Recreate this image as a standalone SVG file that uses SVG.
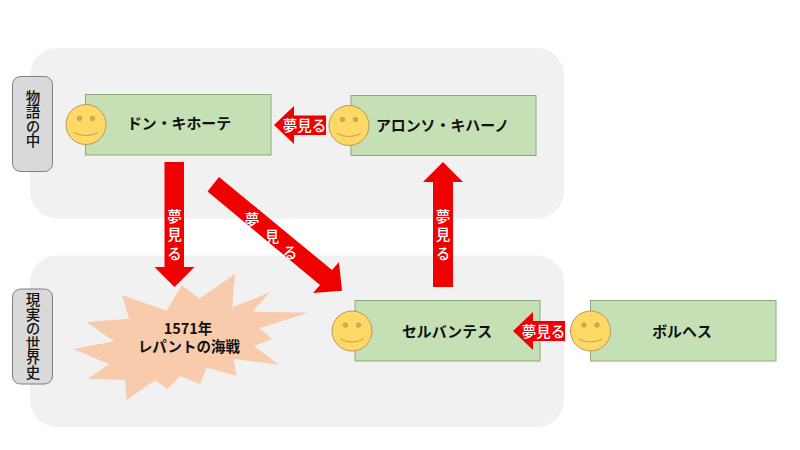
<svg xmlns="http://www.w3.org/2000/svg" width="800" height="450" viewBox="0 0 800 450">
<defs>
<style>
text{font-family:"Noto Sans CJK JP","Noto Sans CJK SC",sans-serif;font-size:14.5px;font-weight:700;text-anchor:middle;dominant-baseline:central;fill:#111}
.name{font-size:14.9px}
.panel{fill:#f1f1f1}
.tag{fill:#d9d9d9;stroke:#7f7f7f;stroke-width:1}
.box{fill:#c5e0b4;stroke:#8aa97c;stroke-width:1}
.arrow{fill:#f00000}
.lbl{fill:#fff;font-weight:500}
.vert{writing-mode:vertical-rl;text-orientation:upright;dominant-baseline:auto;font-weight:500}
.spaced{letter-spacing:4px}
.face{fill:#ffd966;stroke:#b8975a;stroke-width:1}
.eye{fill:#d6ad4e;stroke:#b8975a;stroke-width:.8}
.smile{fill:none;stroke:#b8975a;stroke-width:.9}
</style>
<g id="smiley">
<circle class="face" r="20"/>
<circle class="eye" cx="-6.500" cy="-6" r="2.200"/>
<circle class="eye" cx="6.500" cy="-6" r="2.200"/>
<path class="smile" d="M-12 8Q0 14 12 8"/>
</g>
</defs>
<g id="panels">
<rect id="panel-story" class="panel" x="30" y="48" width="534" height="170.500" rx="27"/>
<rect id="panel-world" class="panel" x="30" y="255.500" width="534" height="171.500" rx="27"/>
</g>
<g id="tag-story">
<rect class="tag" x="12.500" y="76.500" width="40" height="95" rx="8"/>
<text class="vert" x="33" y="119">物語の中</text>
</g>
<g id="tag-world">
<rect class="tag" x="12.500" y="289" width="40" height="95" rx="8"/>
<text class="vert" x="33" y="336">現実の世界史</text>
</g>
<g id="burst">
<polygon fill="#f8cbad" points="181.700,285 199.300,298.700 235,274 232.300,307.300 270,292.300 252.300,311.700 308.300,312.700 259.300,328.300 272.300,339 254,346 278.700,364.700 233.300,359 236.700,375.700 206.700,367.700 200,384 180,376 167.700,389 155,380.300 126.700,400 125,380 87.700,378.700 109,364.300 73.300,349 114.300,341.300 86,322 129.300,318.700 121.700,295 166.700,310.700"/>
<text y="326.500"><tspan x="188">1571年</tspan><tspan x="189" dy="18.500">レパントの海戦</tspan></text>
</g>
<g id="node-don">
<rect class="box" x="85.500" y="94.500" width="185.500" height="60.500"/>
<use href="#smiley" x="86" y="124.500"/>
<text class="name" x="179" y="122.500">ドン・キホーテ</text>
</g>
<g id="node-alonso">
<rect class="box" x="351" y="95.500" width="185" height="60"/>
<use href="#smiley" x="349" y="125.500"/>
<text class="name" x="442.500" y="124">アロンソ・キハーノ</text>
</g>
<g id="node-cervantes">
<rect class="box" x="355" y="300.500" width="185" height="60.500"/>
<use href="#smiley" x="352" y="331"/>
<text class="name" x="447" y="330">セルバンテス</text>
</g>
<g id="node-borges">
<rect class="box" x="590.500" y="300.500" width="185.500" height="60.500"/>
<use href="#smiley" x="590.500" y="331"/>
<text class="name" x="682" y="330">ボルヘス</text>
</g>
<g id="connectors">
<polygon class="arrow" points="274,125 294,106 294,115.500 326,115.500 326,135 294,135 294,144"/>
<text class="lbl" x="304.500" y="124.500">夢見る</text>
<polygon class="arrow" points="164.500,162 184,162 184,267 194.500,267 174.500,287 154.500,267 164.500,267"/>
<text class="lbl vert spaced" x="174.500" y="236.500">夢見る</text>
<polygon class="arrow" points="219,177 332,270 339,262 342,290.700 313,293 320,285 207.500,191.500"/>
<text class="lbl" x="252" y="218">夢</text>
<text class="lbl" x="272" y="235">見</text>
<text class="lbl" x="290" y="251">る</text>
<polygon class="arrow" points="443,162 463,182 453,182 453,287 433,287 433,182 423,182"/>
<text class="lbl vert spaced" x="443" y="236.500">夢見る</text>
<polygon class="arrow" points="513,331 533,312 533,321 565,321 565,341 533,341 533,350"/>
<text class="lbl" x="543.500" y="330.500">夢見る</text>
</g>
</svg>
